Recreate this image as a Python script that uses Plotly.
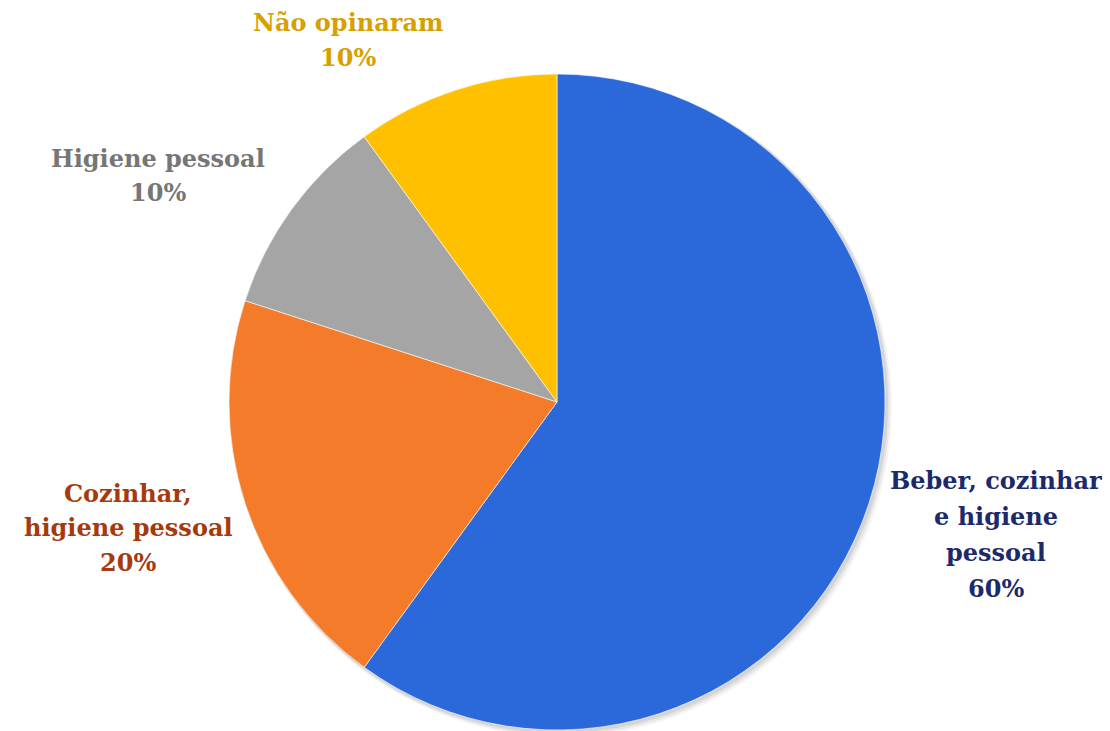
import plotly.graph_objects as go

labels = ["Beber, cozinhar<br>e higiene<br>pessoal", "Cozinhar,<br>higiene pessoal", "Higiene pessoal", "Não opinaram"]
values = [60, 20, 10, 10]
slice_colors = ["#2B69DA", "#F47B2A", "#A5A5A5", "#FFC000"]
label_colors = ["#1C2A6B", "#A63A0C", "#767676", "#D6A000"]
# (center x, first line center y, line spacing) in pixels
label_pos = [(996, 480, 36), (128, 493, 34.5), (158, 158, 34), (348, 22, 36)]

W, H = 1110, 731
cx, cy, r = 557, 402, 328

fig = go.Figure()
fig.add_trace(go.Pie(
    labels=labels, values=values, sort=False, direction="clockwise", rotation=0,
    marker=dict(colors=slice_colors, line=dict(color="rgba(255,255,255,0.6)", width=1)),
    textinfo="none", hoverinfo="label+percent", showlegend=False,
    domain=dict(x=[(cx - r) / W, (cx + r) / W], y=[1 - (cy + r) / H, 1 - (cy - r) / H]),
))

# soft shadow
shapes = []
for off, op in [(7, 0.04), (5, 0.06), (3, 0.08)]:
    shapes.append(dict(type="circle", xref="paper", yref="paper", layer="below",
                       x0=(cx - r + off * 0.3) / W, x1=(cx + r + off) / W,
                       y0=1 - (cy + r + off) / H, y1=1 - (cy - r + off * 0.3) / H,
                       fillcolor=f"rgba(0,0,0,{op})", line=dict(width=0)))

annotations = []
total = sum(values)
for lab, v, col, (x, y0, dy) in zip(labels, values, label_colors, label_pos):
    lines = lab.split("<br>") + [f"{round(100 * v / total)}%"]
    for i, line in enumerate(lines):
        annotations.append(dict(
            x=x / W, y=1 - (y0 + i * dy) / H, xref="paper", yref="paper", showarrow=False,
            text=f"<b>{line}</b>",
            font=dict(family="DejaVu Serif", size=24, color=col),
            align="center", xanchor="center", yanchor="middle",
        ))

fig.update_layout(width=W, height=H, margin=dict(l=0, r=0, t=0, b=0),
                  paper_bgcolor="white", plot_bgcolor="white",
                  shapes=shapes, annotations=annotations)
fig.write_html("out.html")
